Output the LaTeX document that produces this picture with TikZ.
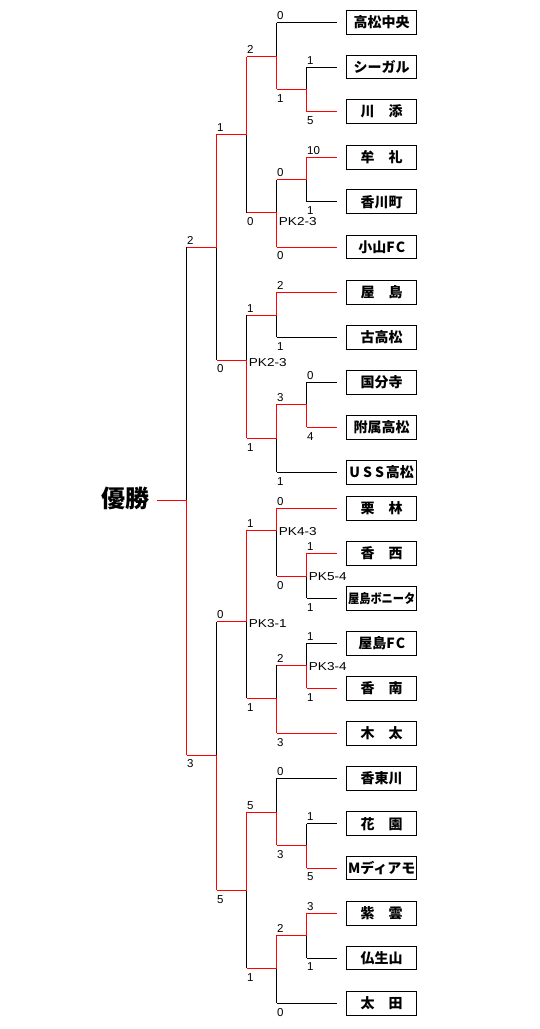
\documentclass[tikz,border=0pt]{standalone}
\usepackage{fontspec}
\newfontfamily\jp{Noto Sans CJK JP}
\newfontfamily\lab{Liberation Sans}
\tikzset{
  win/.style={draw=red, line width=1pt},
  lose/.style={draw=black, line width=1pt},
  team/.style={draw=black, line width=1pt, minimum width=70pt, minimum height=23.5pt,
    inner sep=0pt, outer sep=0pt, text height=11.6pt, text depth=1pt,
    font=\jp\bfseries\fontsize{14}{14}\selectfont},
  sc/.style={inner sep=0pt, anchor=base west, font=\lab\fontsize{11.5}{11.5}\selectfont},
  pk/.style={inner sep=0pt, anchor=west, font=\lab\fontsize{11.5}{11.5}\selectfont},
  champ/.style={inner sep=0pt, anchor=east, font=\jp\bfseries\fontsize{24}{24}\selectfont},
}
% #1 name, #2 x, #3 y top, #4 y junction, #5 y bottom, #6 top style, #7 bottom style
\newcommand\mymatch[7]{%
  \coordinate (#1t) at (#2,#3);
  \coordinate (#1j) at (#2,#4);
  \coordinate (#1b) at (#2,#5);
  \coordinate (#1o) at (#2-30,#4);
  \draw[#6] (#1t) -- (#1j);
  \draw[#7] (#1j) -- (#1b);
  \draw[win] (#1j) -- (#1o);
}
\newcommand\scoreT[3]{\node[sc] (#1) at ([shift={(0.3pt,3pt)}]#2) {#3};}
\newcommand\scoreB[3]{\node[sc] (#1) at ([shift={(0.3pt,-12.9pt)}]#2) {#3};}
\newcommand\teamline[3]{\draw[#1] (#2) -- ([xshift=-10pt]#3.west);}
\newcommand\pktext[1]{\scalebox{1.18}[1]{#1}}
\begin{document}
\begin{tikzpicture}[x=1pt,y=-1pt]
\useasboundingbox (0,0) rectangle (540,1029);
% teams
\node[team] (t0) at (381.7,22.5) {高松中央};
\node[team] (t1) at (381.7,67) {シーガル};
\node[team] (t2) at (381.7,111.5) {川　添};
\node[team] (t3) at (381.7,157.3) {牟　礼};
\node[team] (t4) at (381.7,201.7) {香川町};
\node[team] (t5) at (381.7,247) {小山F\hspace{1pt}C};
\node[team] (t6) at (381.7,292.3) {屋　島};
\node[team] (t7) at (381.7,337.3) {古高松};
\node[team] (t8) at (381.7,382.3) {国分寺};
\node[team] (t9) at (381.7,427.3) {附属高松};
\node[team] (t10) at (381.7,472.3) {U\hspace{3pt}S\hspace{3pt}S\hspace{2pt}高松};
\node[team] (t11) at (381.7,508.3) {栗　林};
\node[team] (t12) at (381.7,553.3) {香　西};
\node[team] (t13) at (381.7,598.3) {\scalebox{0.8}[0.92]{屋島ボニータ}};
\node[team] (t14) at (381.7,643.3) {屋島F\hspace{1pt}C};
\node[team] (t15) at (381.7,688.3) {香　南};
\node[team] (t16) at (381.7,733.3) {木　太};
\node[team] (t17) at (381.7,778.3) {香東川};
\node[team] (t18) at (381.7,823.7) {花　園};
\node[team] (t19) at (381.7,868) {Mディアモ};
\node[team] (t20) at (381.7,913.3) {紫　雲};
\node[team] (t21) at (381.7,958) {仏生山};
\node[team] (t22) at (381.7,1003.3) {太　田};
% matches
\mymatch{A}{306.7}{67}{89.3}{111.5}{lose}{win}
\mymatch{B}{276.7}{22.5}{56.7}{89.3}{lose}{win}
\mymatch{C}{306.7}{157.3}{179.7}{201.7}{win}{lose}
\mymatch{D}{276.7}{179.7}{212.5}{247}{lose}{win}
\mymatch{E}{246.7}{56.7}{134.3}{212.5}{win}{lose}
\mymatch{H}{276.7}{292.3}{315.3}{337.3}{win}{lose}
\mymatch{I}{306.7}{382.3}{404.3}{427.3}{lose}{win}
\mymatch{J}{276.7}{404.3}{438.3}{472.3}{win}{lose}
\mymatch{G}{246.7}{315.3}{360}{438.3}{lose}{win}
\mymatch{F}{216.7}{134.3}{247.3}{360}{win}{lose}
\mymatch{K}{306.7}{553.3}{576.3}{598.3}{win}{lose}
\mymatch{L}{276.7}{508.3}{530.3}{576.3}{win}{lose}
\mymatch{M}{306.7}{643.3}{665.3}{688.3}{lose}{win}
\mymatch{N}{276.7}{665.3}{698.3}{733.3}{lose}{win}
\mymatch{O}{246.7}{530.3}{621.7}{698.3}{win}{lose}
\mymatch{P}{306.7}{823.7}{845.3}{868}{lose}{win}
\mymatch{Q}{276.7}{778.3}{812.3}{845.3}{lose}{win}
\mymatch{R}{306.7}{913.3}{935.3}{958}{win}{lose}
\mymatch{S}{276.7}{935.3}{968.3}{1003.3}{win}{lose}
\mymatch{T}{246.7}{812.3}{890.3}{968.3}{win}{lose}
\mymatch{U}{216.7}{621.7}{755}{890.3}{lose}{win}
\mymatch{V}{186.7}{247.3}{500}{755}{lose}{win}
% team lines
\teamline{lose}{Bt}{t0}
\teamline{lose}{At}{t1}
\teamline{win}{Ab}{t2}
\teamline{win}{Ct}{t3}
\teamline{lose}{Cb}{t4}
\teamline{win}{Db}{t5}
\teamline{win}{Ht}{t6}
\teamline{lose}{Hb}{t7}
\teamline{lose}{It}{t8}
\teamline{win}{Ib}{t9}
\teamline{lose}{Jb}{t10}
\teamline{win}{Lt}{t11}
\teamline{win}{Kt}{t12}
\teamline{lose}{Kb}{t13}
\teamline{lose}{Mt}{t14}
\teamline{win}{Mb}{t15}
\teamline{win}{Nb}{t16}
\teamline{lose}{Qt}{t17}
\teamline{lose}{Pt}{t18}
\teamline{win}{Pb}{t19}
\teamline{win}{Rt}{t20}
\teamline{lose}{Rb}{t21}
\teamline{lose}{Sb}{t22}
% champion
\node[champ] (yusho) at (150,498.5) {優勝};
% scores
\scoreT{sAt}{At}{1} \scoreB{sAb}{Ab}{5}
\scoreT{sBt}{Bt}{0} \scoreB{sBb}{Bb}{1}
\scoreT{sCt}{Ct}{10} \scoreB{sCb}{Cb}{1}
\scoreT{sDt}{Dt}{0} \scoreB{sDb}{Db}{0}
\scoreT{sEt}{Et}{2} \scoreB{sEb}{Eb}{0}
\scoreT{sHt}{Ht}{2} \scoreB{sHb}{Hb}{1}
\scoreT{sIt}{It}{0} \scoreB{sIb}{Ib}{4}
\scoreT{sJt}{Jt}{3} \scoreB{sJb}{Jb}{1}
\scoreT{sGt}{Gt}{1} \scoreB{sGb}{Gb}{1}
\scoreT{sFt}{Ft}{1} \scoreB{sFb}{Fb}{0}
\scoreT{sKt}{Kt}{1} \scoreB{sKb}{Kb}{1}
\scoreT{sLt}{Lt}{0} \scoreB{sLb}{Lb}{0}
\scoreT{sMt}{Mt}{1} \scoreB{sMb}{Mb}{1}
\scoreT{sNt}{Nt}{2} \scoreB{sNb}{Nb}{3}
\scoreT{sOt}{Ot}{1} \scoreB{sOb}{Ob}{1}
\scoreT{sPt}{Pt}{1} \scoreB{sPb}{Pb}{5}
\scoreT{sQt}{Qt}{0} \scoreB{sQb}{Qb}{3}
\scoreT{sRt}{Rt}{3} \scoreB{sRb}{Rb}{1}
\scoreT{sSt}{St}{2} \scoreB{sSb}{Sb}{0}
\scoreT{sTt}{Tt}{5} \scoreB{sTb}{Tb}{1}
\scoreT{sUt}{Ut}{0} \scoreB{sUb}{Ub}{5}
\scoreT{sVt}{Vt}{2} \scoreB{sVb}{Vb}{3}
% penalty kicks
\node[pk] (pkD) at ([shift={(2pt,-9pt)}]Dj) {\pktext{PK2-3}};
\node[pk] (pkG) at ([shift={(2pt,-2.5pt)}]Gj) {\pktext{PK2-3}};
\node[pk] (pkL) at ([shift={(2pt,-1.7pt)}]Lj) {\pktext{PK4-3}};
\node[pk] (pkK) at ([shift={(2pt,-0.5pt)}]Kj) {\pktext{PK5-4}};
\node[pk] (pkM) at ([shift={(2pt,-1.4pt)}]Mj) {\pktext{PK3-4}};
\node[pk] (pkO) at ([shift={(2pt,-1.6pt)}]Oj) {\pktext{PK3-1}};
\end{tikzpicture}
\end{document}
